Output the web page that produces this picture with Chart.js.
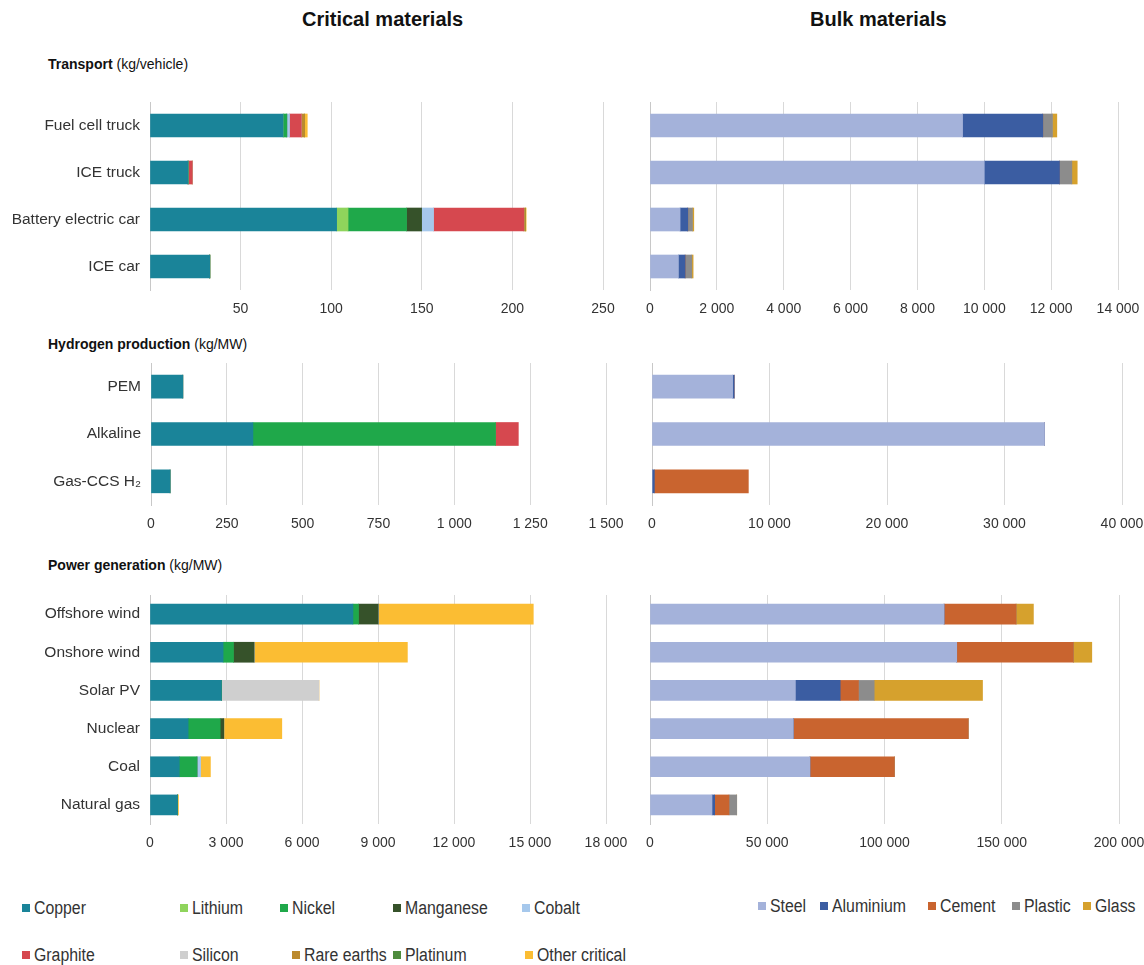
<!DOCTYPE html>
<html><head><meta charset="utf-8">
<script src="https://cdn.jsdelivr.net/npm/chart.js@4"></script>
<style>
body{margin:0;width:1144px;height:965px;background:#fff;font-family:"Liberation Sans",Arial,sans-serif;color:#222;position:relative;overflow:hidden}
canvas{position:absolute}
.title{position:absolute;font-weight:bold;font-size:20px;color:#111;white-space:nowrap}
.sec{position:absolute;font-size:14px;color:#111;white-space:nowrap}
.leg{position:absolute;font-size:18px;color:#333;display:flex;align-items:center;white-space:nowrap;height:22px}
.leg i{display:inline-block;width:8px;height:8px;margin-right:4px;flex:none}
.leg span{display:inline-block;transform:scaleX(0.88);transform-origin:left center}
</style></head><body>
<div class="title" style="left:302px;top:8px">Critical materials</div>
<div class="title" style="left:810px;top:8px">Bulk materials</div>
<div class="sec" style="left:48px;top:56px"><b>Transport</b> (kg/vehicle)</div>
<div class="sec" style="left:48px;top:336px"><b>Hydrogen production</b> (kg/MW)</div>
<div class="sec" style="left:48px;top:557px"><b>Power generation</b> (kg/MW)</div>
<canvas id="tc"></canvas><canvas id="tb"></canvas>
<canvas id="hc"></canvas><canvas id="hb"></canvas>
<canvas id="pc"></canvas><canvas id="pb"></canvas>
<div id="legends"></div>
<script>
// ---------- categories & series names ----------
const critMaterials = ['Copper','Lithium','Nickel','Manganese','Cobalt','Graphite','Silicon','Rare earths','Platinum','Other critical'];
const bulkMaterials = ['Steel','Aluminium','Cement','Plastic','Glass'];
const transportCats = ['Fuel cell truck','ICE truck','Battery electric car','ICE car'];
const hydrogenCats  = ['PEM','Alkaline','Gas-CCS H\u2082'];
const powerCats     = ['Offshore wind','Onshore wind','Solar PV','Nuclear','Coal','Natural gas'];

// ---------- Transport, critical (kg/vehicle) ----------
const trCopper     = [73.5, 21, 103, 33];
const trLithium    = [0, 0, 6.3, 0];
const trNickel     = [2, 0, 32.3, 0];
const trManganese  = [0, 0, 8.3, 0];
const trCobalt     = [1.5, 0, 6.6, 0];
const trGraphite   = [6.5, 2.3, 49.8, 0];
const trSilicon    = [0, 0, 0, 0];
const trRareEarths = [1.8, 0, 0.8, 0];
const trPlatinum   = [0, 0, 0, 0];
const trOther      = [1.5, 0, 0.5, 0];
// ---------- Transport, bulk (kg/vehicle) ----------
const tbSteel     = [9350, 10000, 900, 850];
const tbAluminium = [2400, 2250, 230, 200];
const tbCement    = [0, 0, 0, 0];
const tbPlastic   = [290, 370, 140, 200];
const tbGlass     = [130, 160, 40, 40];

// ---------- Hydrogen production, critical (kg/MW) ----------
const hcCopper   = [105, 336, 63];
const hcNickel   = [0, 800, 0];
const hcGraphite = [0, 75, 0];
// ---------- Hydrogen production, bulk (kg/MW) ----------
const hbSteel     = [6860, 33400, 0];
const hbAluminium = [140, 0, 200];
const hbCement    = [0, 0, 8000];

// ---------- Power generation, critical (kg/MW) ----------
const pcCopper    = [8010, 2885, 2815, 1505, 1155, 1084];
const pcNickel    = [220, 410, 0, 1265, 700, 0];
const pcManganese = [780, 815, 0, 143, 0, 0];
const pcCobalt    = [0, 0, 0, 0, 140, 0];
const pcSilicon   = [0, 0, 3855, 0, 0, 0];
const pcOther     = [6120, 6050, 0, 2290, 390, 40];
// ---------- Power generation, bulk (kg/MW) ----------
const pbSteel     = [125400, 130800, 62000, 61100, 68200, 26440];
const pbAluminium = [0, 0, 19100, 0, 0, 1140];
const pbCement    = [30700, 49700, 7800, 74600, 36000, 6100];
const pbPlastic   = [0, 0, 6700, 0, 0, 3300];
const pbGlass     = [7400, 7900, 46200, 0, 0, 0];

// ---------- styles ----------
const colors = {
  'Copper':'#1a8499','Lithium':'#8fd45c','Nickel':'#1fa84a','Manganese':'#36522a','Cobalt':'#a6c8ec',
  'Graphite':'#d6484f','Silicon':'#cfcfcf','Rare earths':'#bb8a2e','Platinum':'#4e8c3e','Other critical':'#fbbd33',
  'Steel':'#a4b2da','Aluminium':'#3b5da2','Cement':'#c9642f','Plastic':'#8c8c8c','Glass':'#d6a12d'
};
const FONT = '"Liberation Sans", Arial, sans-serif';
const fmt = v => String(v).replace(/\B(?=(\d{3})+(?!\d))/g, ' ');

function panel(id, box, cats, names, data, o) {
  const cv = document.getElementById(id);
  cv.width = box.w; cv.height = box.h;
  cv.style.left = box.x + 'px'; cv.style.top = box.y + 'px';
  cv.style.width = box.w + 'px'; cv.style.height = box.h + 'px';
  new Chart(cv, {
    type: 'bar',
    data: { labels: cats, datasets: names.map((n, i) => ({
      label: n, data: data[i], backgroundColor: colors[n], borderWidth: 0, barThickness: o.bar
    })) },
    options: {
      indexAxis: 'y', responsive: false, animation: false, devicePixelRatio: 1,
      layout: { padding: { left: o.padL, right: o.padR, top: 0, bottom: 0 } },
      plugins: { legend: { display: false }, tooltip: { enabled: false } },
      scales: {
        x: { stacked: true, min: 0, max: o.max,
             ticks: { stepSize: o.step, color: '#333', padding: 11, font: { size: 14, family: FONT },
                      maxRotation: 0, autoSkip: false,
                      callback: v => (o.hideZero && v === 0) ? '' : fmt(v) },
             grid: { color: '#d9d9d9', drawTicks: false, lineWidth: 1 },
             border: { display: false },
             afterFit: s => { s.height = 30; s.paddingLeft = 0; s.paddingRight = 0; } },
        y: { stacked: true, grid: { display: false, drawTicks: false },
             border: { color: '#c8c8c8' },
             ticks: { display: o.labels, color: '#333', padding: 10, font: { size: 15.5, family: FONT } },
             afterFit: s => { s.width = o.yw; s.paddingTop = 0; s.paddingBottom = 0; } }
      }
    }
  });
}

panel('tc', {x:0, y:102, w:625, h:218}, transportCats, critMaterials,
  [trCopper, trLithium, trNickel, trManganese, trCobalt, trGraphite, trSilicon, trRareEarths, trPlatinum, trOther],
  {bar:23, padL:0, padR:22, max:250, step:50, labels:true, yw:150, hideZero:true});
panel('tb', {x:640, y:102, w:504, h:218}, transportCats, bulkMaterials,
  [tbSteel, tbAluminium, tbCement, tbPlastic, tbGlass],
  {bar:23, padL:10, padR:26, max:14000, step:2000, labels:false, yw:0});
panel('hc', {x:0, y:363, w:628, h:172}, hydrogenCats, ['Copper','Nickel','Graphite'],
  [hcCopper, hcNickel, hcGraphite],
  {bar:23, padL:0, padR:22, max:1500, step:250, labels:true, yw:151});
panel('hb', {x:640, y:363, w:504, h:172}, hydrogenCats, ['Steel','Aluminium','Cement'],
  [hbSteel, hbAluminium, hbCement],
  {bar:23, padL:12, padR:22, max:40000, step:10000, labels:false, yw:0});
panel('pc', {x:0, y:595, w:628, h:259}, powerCats, ['Copper','Nickel','Manganese','Cobalt','Silicon','Other critical'],
  [pcCopper, pcNickel, pcManganese, pcCobalt, pcSilicon, pcOther],
  {bar:20, padL:0, padR:22, max:18000, step:3000, labels:true, yw:150});
panel('pb', {x:640, y:595, w:504, h:259}, powerCats, bulkMaterials,
  [pbSteel, pbAluminium, pbCement, pbPlastic, pbGlass],
  {bar:20, padL:10, padR:25, max:200000, step:50000, labels:false, yw:0});

// ---------- legends (HTML text) ----------
const legendSlots = [
  ['Copper',22,897],['Lithium',180,897],['Nickel',280,897],['Manganese',393,897],['Cobalt',522,897],
  ['Graphite',22,944],['Silicon',180,944],['Rare earths',292,944],['Platinum',393,944],['Other critical',525,944],
  ['Steel',758,895],['Aluminium',820,895],['Cement',928,895],['Plastic',1012,895],['Glass',1083,895]
];
const lg = document.getElementById('legends');
legendSlots.forEach(([n, x, y]) => {
  const d = document.createElement('div');
  d.className = 'leg'; d.style.left = x + 'px'; d.style.top = y + 'px';
  d.innerHTML = '<i style="background:' + colors[n] + '"></i><span>' + n + '</span>';
  lg.appendChild(d);
});
</script>
</body></html>
